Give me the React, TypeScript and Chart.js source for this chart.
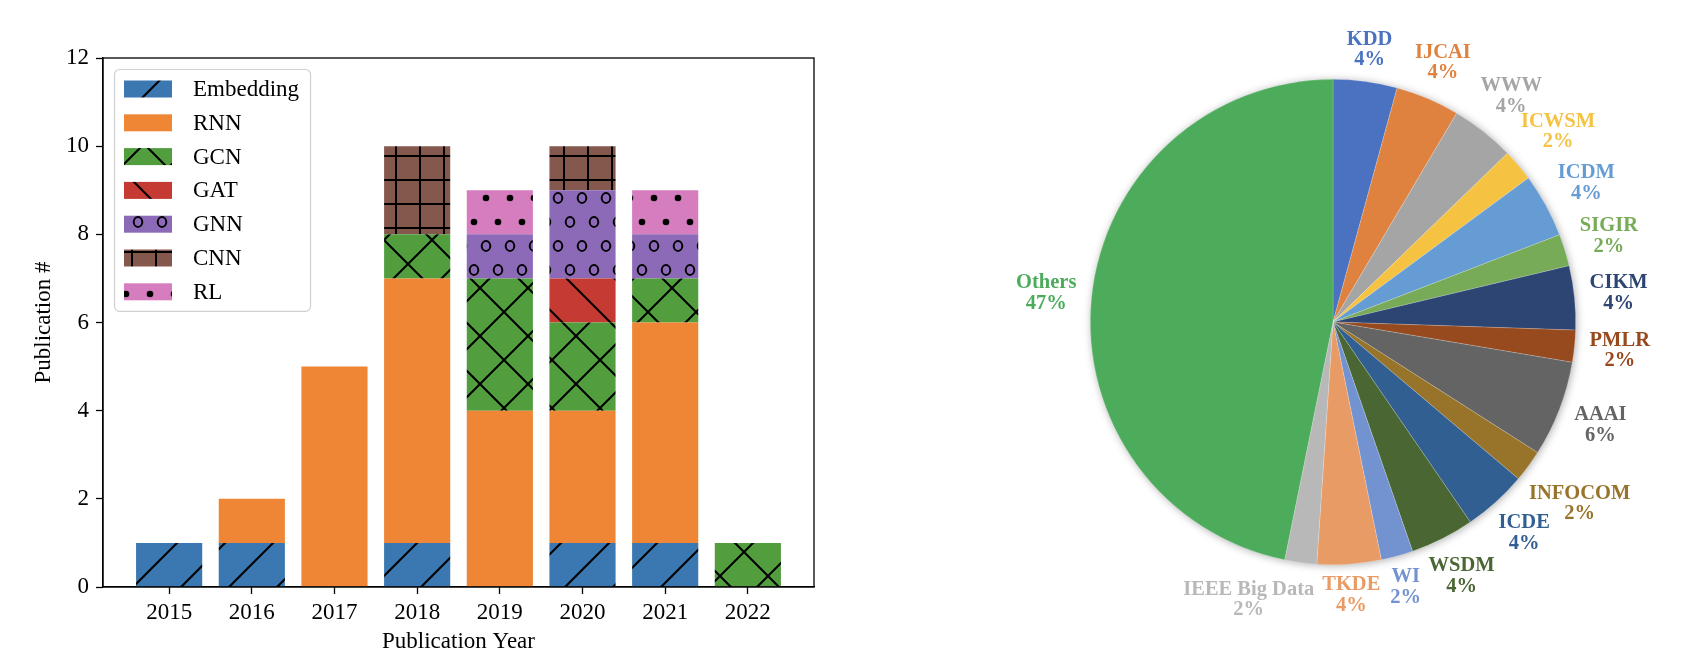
import React, { useEffect, useRef } from "react";
import { Chart, registerables } from "chart.js";

Chart.register(...registerables);

const SERIF = "'Liberation Serif', 'Times New Roman', serif";

// ---------------- Bar chart data ----------------
const years = ["2015", "2016", "2017", "2018", "2019", "2020", "2021", "2022"];
const seriesNames = ["Embedding", "RNN", "GCN", "GAT", "GNN", "CNN", "RL"];
const embedding = [1, 1, 0, 1, 0, 1, 1, 0];
const rnn = [0, 1, 5, 6, 4, 3, 5, 0];
const gcn = [0, 0, 0, 1, 3, 2, 1, 1];
const gat = [0, 0, 0, 0, 0, 1, 0, 0];
const gnn = [0, 0, 0, 0, 1, 2, 1, 0];
const cnn = [0, 0, 0, 2, 0, 1, 0, 0];
const rl = [0, 0, 0, 0, 1, 0, 1, 0];
const seriesValues = [embedding, rnn, gcn, gat, gnn, cnn, rl];
const seriesColors = ["#3B77B0", "#EF8636", "#529E3F", "#C53A32", "#8D6AB8", "#85584D", "#D57DBE"];
const seriesHatches = ["/", "", "x", "\\", "o", "+", "."];
const yTicks = [0, 2, 4, 6, 8, 10, 12];

// ---------------- Pie chart data ----------------
const venues = ["KDD", "IJCAI", "WWW", "ICWSM", "ICDM", "SIGIR", "CIKM", "PMLR", "AAAI", "INFOCOM", "ICDE", "WSDM", "WI", "TKDE", "IEEE Big Data", "Others"];
const venueCounts = [2, 2, 2, 1, 2, 1, 2, 1, 3, 1, 2, 2, 1, 2, 1, 22];
const venueColors = ["#4A72C0", "#E0823F", "#A5A5A5", "#F5C242", "#659CD4", "#77AB57", "#2C4573", "#974A1E", "#646464", "#97742A", "#325F92", "#4A6733", "#7392D0", "#E99B65", "#B8B8B8", "#4DAB5C"];

function makePattern(color: string, hatch: string): CanvasPattern | string {
  if (!hatch) return color;
  const S = 48;
  const c = document.createElement("canvas");
  c.width = S;
  c.height = S;
  const g = c.getContext("2d")!;
  g.fillStyle = color;
  g.fillRect(0, 0, S, S);
  g.strokeStyle = "#000";
  g.fillStyle = "#000";
  g.lineWidth = 2;
  const line = (x1: number, y1: number, x2: number, y2: number) => {
    g.beginPath();
    g.moveTo(x1, y1);
    g.lineTo(x2, y2);
    g.stroke();
  };
  if (hatch === "/" || hatch === "x") {
    for (let k = -1; k <= 1; k++) line(k * S - 2, S + 2, k * S + S + 2, -2);
  }
  if (hatch === "\\" || hatch === "x") {
    for (let k = -1; k <= 1; k++) line(k * S - 2, -2, k * S + S + 2, S + 2);
  }
  if (hatch === "+") {
    for (const p of [12, 36]) {
      line(p, 0, p, S);
      line(0, p, S, p);
    }
  }
  if (hatch === "o" || hatch === ".") {
    const pts: [number, number][] = [];
    for (let r = -1; r <= 2; r++) {
      const yy = r * 24;
      const odd = Math.abs(r) % 2 === 1;
      for (let q = -1; q <= 3; q++) {
        const xx = q * 24 + (odd ? 12 : 0);
        pts.push([xx + 6, yy + 6]);
      }
    }
    for (const [px, py] of pts) {
      g.beginPath();
      if (hatch === "o") {
        g.ellipse(px, py, 4.3, 4.9, 0, 0, Math.PI * 2);
        g.stroke();
      } else {
        g.arc(px, py, 3.3, 0, Math.PI * 2);
        g.fill();
      }
    }
  }
  return g.createPattern(c, "repeat")!;
}

const frameAndLegendPlugin = {
  id: "frameAndLegend",
  afterDatasetsDraw(chart: any) {
    const { ctx, chartArea: a } = chart;
    ctx.save();
    ctx.strokeStyle = "#000";
    ctx.lineWidth = 1.3;
    ctx.strokeRect(a.left, a.top, a.right - a.left, a.bottom - a.top);
    ctx.restore();
  },
  afterDraw(chart: any) {
    const { ctx, chartArea: a } = chart;
    const fs = 23;
    const datasets = chart.data.datasets;
    ctx.save();
    ctx.font = `${fs}px ${SERIF}`;
    let maxW = 0;
    datasets.forEach((d: any) => {
      maxW = Math.max(maxW, ctx.measureText(d.label).width);
    });
    const x0 = a.left + 0.5 * fs;
    const y0 = a.top + 0.5 * fs;
    const pitch = 33.8;
    const edge = 19.5;
    const pad = 9.5;
    const handle = 48;
    const textGap = 21;
    const w = pad + handle + textGap + maxW + pad + 2;
    const h = 2 * edge + (datasets.length - 1) * pitch;
    ctx.beginPath();
    ctx.roundRect(x0, y0, w, h, 5);
    ctx.fillStyle = "rgba(255,255,255,0.8)";
    ctx.fill();
    ctx.strokeStyle = "#d0d0d0";
    ctx.lineWidth = 1.2;
    ctx.stroke();
    datasets.forEach((d: any, i: number) => {
      const cy = y0 + edge + i * pitch;
      const sx = x0 + pad;
      ctx.fillStyle = d.backgroundColor;
      ctx.fillRect(sx, cy - 8.5, handle, 17);
      ctx.fillStyle = "#000";
      ctx.textBaseline = "middle";
      ctx.textAlign = "left";
      ctx.fillText(d.label, sx + handle + textGap, cy + 1);
    });
    ctx.restore();
  },
};

const pieDecorPlugin = {
  id: "pieDecor",
  beforeDatasetsDraw(chart: any) {
    const meta = chart.getDatasetMeta(0);
    if (!meta.data.length) return;
    const { x, y, outerRadius } = meta.data[0].getProps(["x", "y", "outerRadius"], true);
    const ctx = chart.ctx;
    ctx.save();
    ctx.shadowColor = "rgba(0,0,0,0.35)";
    ctx.shadowBlur = 9;
    ctx.shadowOffsetX = 1;
    ctx.shadowOffsetY = 1;
    ctx.beginPath();
    ctx.arc(x, y, outerRadius - 0.5, 0, Math.PI * 2);
    ctx.fillStyle = "#fff";
    ctx.fill();
    ctx.restore();
  },
  afterDatasetsDraw(chart: any) {
    const meta = chart.getDatasetMeta(0);
    const ds = chart.data.datasets[0];
    const values: number[] = ds.data;
    const total = values.reduce((s, v) => s + v, 0);
    const ctx = chart.ctx;
    const fs = 20.5;
    const lh = 20.5;
    const halfH = 15;
    ctx.save();
    ctx.font = `bold ${fs}px ${SERIF}`;
    ctx.textAlign = "center";
    ctx.textBaseline = "middle";
    const boxes: { cx: number; cy: number; w: number; h: number }[] = [];
    meta.data.forEach((arc: any, i: number) => {
      const { x, y, startAngle, endAngle, outerRadius } = arc.getProps(["x", "y", "startAngle", "endAngle", "outerRadius"], true);
      const mid = (startAngle + endAngle) / 2;
      const name = chart.data.labels[i] as string;
      const pct = Math.round((values[i] / total) * 100) + "%";
      const tw = Math.max(ctx.measureText(name).width, ctx.measureText(pct).width);
      const c = Math.cos(mid);
      const s = Math.sin(mid);
      const extent = Math.abs(c) * (tw / 2) + Math.abs(s) * halfH;
      const dist = outerRadius + 14 + extent;
      let cx = x + c * dist;
      const cy = y + s * dist;
      // push apart labels that sit on the same row and collide
      for (const b of boxes) {
        const oy = Math.min(cy + lh, b.cy + b.h / 2) - Math.max(cy - lh, b.cy - b.h / 2);
        const ox = Math.min(cx + tw / 2, b.cx + b.w / 2) - Math.max(cx - tw / 2, b.cx - b.w / 2);
        if (oy > 34 && ox > -6) {
          if (cx < b.cx) cx = b.cx - b.w / 2 - 8 - tw / 2;
          else cx = b.cx + b.w / 2 + 8 + tw / 2;
        }
      }
      boxes.push({ cx, cy, w: tw, h: 2 * lh });
      ctx.fillStyle = ds.backgroundColor[i];
      ctx.fillText(name, cx, cy - lh / 2);
      ctx.fillText(pct, cx, cy + lh / 2);
    });
    ctx.restore();
  },
};

export default function App() {
  const barRef = useRef<HTMLCanvasElement>(null);
  const pieRef = useRef<HTMLCanvasElement>(null);

  useEffect(() => {
    Chart.defaults.font.family = SERIF;
    Chart.defaults.color = "#000";
    const font = { family: SERIF, size: 23 };
    const grid = {
      offset: false,
      drawOnChartArea: false,
      drawTicks: true,
      tickLength: 7,
      tickColor: "#000",
      tickWidth: 1.3,
    };
    const border = { color: "#000", width: 1.3 };

    const bar = new Chart(barRef.current!, {
      type: "bar",
      data: {
        datasets: seriesNames.map((name, si) => ({
          label: name,
          data: years.map((_, i) => ({ x: i, y: seriesValues[si][i] })),
          backgroundColor: makePattern(seriesColors[si], seriesHatches[si]) as any,
          borderWidth: 0,
          categoryPercentage: 1,
          barPercentage: 0.8,
        })),
      },
      options: {
        animation: false,
        responsive: false,
        layout: { padding: { left: 0, right: 26, top: 58, bottom: 0 } },
        plugins: { legend: { display: false }, tooltip: { enabled: false } },
        scales: {
          x: {
            type: "linear",
            offset: false,
            stacked: true,
            min: -0.8,
            max: 7.8,
            afterBuildTicks: (s: any) => {
              s.ticks = years.map((_, i) => ({ value: i }));
            },
            afterFit: (s: any) => {
              s.height = 85;
            },
            ticks: {
              callback: (v: any) => years[v as number] ?? "",
              font,
              color: "#000",
              padding: 5,
              maxRotation: 0,
              autoSkip: false,
            },
            grid,
            border,
            title: { display: true, text: "Publication Year", font, color: "#000", padding: { top: 0, bottom: 16 } },
          } as any,
          y: {
            stacked: true,
            min: 0,
            max: 12,
            afterBuildTicks: (s: any) => {
              s.ticks = yTicks.map((v) => ({ value: v }));
            },
            afterFit: (s: any) => {
              s.width = 103;
            },
            ticks: { font, color: "#000", padding: 7 },
            grid,
            border,
            title: { display: true, text: "Publication #", font, color: "#000", padding: { top: 30, bottom: 0 } },
          } as any,
        },
      },
      plugins: [frameAndLegendPlugin],
    });

    const pie = new Chart(pieRef.current!, {
      type: "pie",
      data: {
        labels: venues,
        datasets: [
          {
            data: venueCounts,
            backgroundColor: venueColors,
            borderColor: "rgba(255,255,255,0.3)",
            borderWidth: 0.6,
          },
        ],
      },
      options: {
        animation: false,
        responsive: false,
        layout: { padding: { left: 250, right: 106, top: 79, bottom: 107 } },
        plugins: { legend: { display: false }, tooltip: { enabled: false } },
      },
      plugins: [pieDecorPlugin],
    });

    return () => {
      bar.destroy();
      pie.destroy();
    };
  }, []);

  return (
    <div style={{ position: "absolute", left: 0, top: 0, width: 1682, height: 672, background: "#fff" }}>
      <div style={{ position: "absolute", left: 0, top: 0, width: 840, height: 672 }}>
        <canvas ref={barRef} width={840} height={672} />
      </div>
      <div style={{ position: "absolute", left: 840, top: 0, width: 842, height: 672 }}>
        <canvas ref={pieRef} width={842} height={672} />
      </div>
    </div>
  );
}
